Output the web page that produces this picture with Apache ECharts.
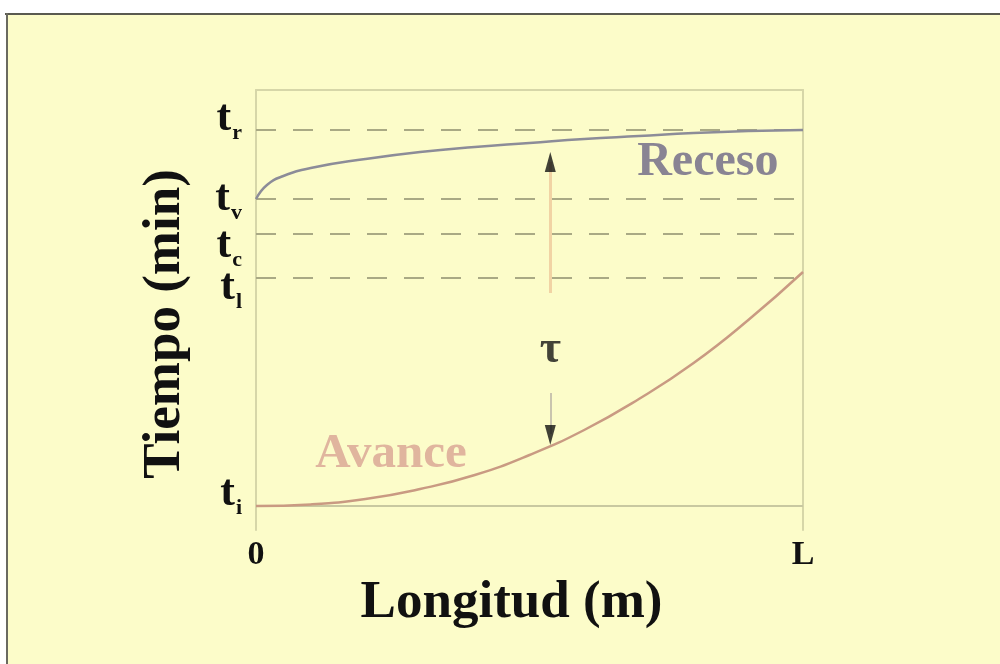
<!DOCTYPE html>
<html><head><meta charset="utf-8">
<script src="https://cdn.jsdelivr.net/npm/echarts@6/dist/echarts.min.js"></script>
<style>html,body{margin:0;padding:0;background:#ffffff}#c{width:1000px;height:664px}</style>
</head><body><div id="c"></div>
<script>
// x: fraction of field length (0 .. L)
const lengthPos = [0, 0.1, 0.2, 0.3, 0.4, 0.5, 0.6, 0.7, 0.8, 0.9, 1.0];
const avance    = [6, 6.4, 7.75, 10.25, 13.75, 18.75, 25, 32.75, 41.75, 52.5, 64.5];
const recesoPos = [0, 0.02, 0.05, 0.1, 0.2, 0.3, 0.4, 0.5, 0.6, 0.7, 0.8, 0.9, 1.0];
const receso    = [82.75, 86.25, 88.5, 90.5, 92.75, 94.5, 95.75, 96.75, 97.75, 98.5, 99.25, 99.75, 100];
// time levels on the y axis
const timeSubs   = ['r', 'v', 'c', 'l', 'i'];
const timeValues = [100, 82.75, 74, 63, 6];
const dashedValues = [100, 82.75, 74, 63];
const baseValue = 6;
// x tick labels
const xTickValues = [0, 1];
const xTickLabels = ['0', 'L'];
// tau arrows (x position, y from, y to)
const arrowX = 0.538;
const upArrow = [59.25, 92];
const downArrow = [34.25, 24];
const upHead = 92;
const downHead = 23.75;
const tauPos = [0.538, 45];
const recesoLabelPos = [0.826, 91.75];
const avanceLabelPos = [0.247, 19];

const SERIF = '"Liberation Serif", "DejaVu Serif", serif';
const frameColor = '#d6d6a8';
// vertical nudge (style) of each time label, in px: padding [top, bottom]
const labelNudge = { r: [0, 22], v: [0, 0], c: [24, 0], l: [20, 0], i: [0, 24] };
const richStyles = {};
Object.keys(labelNudge).forEach(k => {
  const [pt, pb] = labelNudge[k];
  richStyles['t' + k] = { fontFamily: SERIF, fontWeight: 'bold', fontSize: 44, color: '#111', padding: [pt, 0, pb, 0] };
  richStyles['s' + k] = { fontFamily: SERIF, fontWeight: 'bold', fontSize: 22, color: '#111', padding: [pt + 28, 0, pb, 1] };
});

const chart = echarts.init(document.getElementById('c'));
const zip = (xs, ys) => xs.map((x, i) => [x, ys[i]]);

chart.setOption({
  backgroundColor: '#ffffff',
  animation: false,
  graphic: [
    { type: 'rect', left: 8, top: 15, shape: { width: 992, height: 649 }, style: { fill: '#fcfcc9' }, z: -10 },
    { type: 'line', shape: { x1: 5, y1: 14, x2: 1000, y2: 14 }, style: { stroke: '#5a5a50', lineWidth: 2 }, z: -5 },
    { type: 'line', shape: { x1: 7, y1: 13, x2: 7, y2: 664 }, style: { stroke: '#6a6a60', lineWidth: 2 }, z: -5 }
  ],
  grid: { left: 256, right: 197, top: 90, bottom: 134 },
  xAxis: [{
    type: 'value', min: 0, max: 1, position: 'bottom',
    axisLine: { show: false }, axisTick: { show: false }, splitLine: { show: false },
    axisLabel: {
      customValues: xTickValues, margin: 8,
      formatter: v => xTickLabels[xTickValues.indexOf(v)],
      fontFamily: SERIF, fontWeight: 'bold', fontSize: 34, color: '#111'
    },
    name: 'Longitud (m)', nameLocation: 'middle', nameGap: 44,
    nameTextStyle: { fontFamily: SERIF, fontWeight: 'bold', fontSize: 53, color: '#111', padding: [0, 36, 0, 0] }
  }, {
    type: 'value', min: 0, max: 1, position: 'top',
    axisLine: { show: true, onZero: false, lineStyle: { color: frameColor, width: 2 } },
    axisTick: { show: false }, axisLabel: { show: false }, splitLine: { show: false }
  }],
  yAxis: [{
    type: 'value', min: 0, max: 110, position: 'left',
    axisLine: { show: true, onZero: false, lineStyle: { color: frameColor, width: 2 } },
    axisTick: { show: false }, splitLine: { show: false },
    axisLabel: {
      customValues: timeValues, margin: 14,
      formatter: v => { const s = timeSubs[timeValues.indexOf(v)]; return '{t' + s + '|t}{s' + s + '|' + s + '}'; },
      rich: richStyles
    },
    name: 'Tiempo (min)', nameLocation: 'middle', nameGap: 64,
    nameTextStyle: { fontFamily: SERIF, fontWeight: 'bold', fontSize: 53, color: '#111', padding: [0, 28, 0, 0] }
  }, {
    type: 'value', min: 0, max: 110, position: 'right',
    axisLine: { show: true, onZero: false, lineStyle: { color: frameColor, width: 2 } },
    axisTick: { show: false }, axisLabel: { show: false }, splitLine: { show: false }
  }],
  series: [
    {
      type: 'line', name: 'guides', data: [], silent: true,
      markLine: {
        silent: true, symbol: ['none', 'none'], label: { show: false },
        data: dashedValues.map(v => ({ yAxis: v, lineStyle: { type: [20, 17], color: '#a9a984', width: 2 } }))
          .concat([{ yAxis: baseValue, lineStyle: { type: 'solid', color: '#c8c8a0', width: 2 } }])
      }
    },
    {
      type: 'line', name: 'Avance', data: zip(lengthPos, avance), smooth: true, symbol: 'none',
      lineStyle: { color: '#c99a82', width: 2.5 }, z: 5
    },
    {
      type: 'line', name: 'Receso', data: zip(recesoPos, receso), smooth: true, symbol: 'none',
      lineStyle: { color: '#8c8c98', width: 2.5 }, z: 5
    },
    {
      type: 'line', name: 'arrows', data: [], silent: true,
      markLine: {
        silent: true, symbol: ['none', 'none'], label: { show: false },
        data: [
          [{ coord: [arrowX, upArrow[0]], lineStyle: { color: '#f1d3a4', width: 3, type: 'solid' } }, { coord: [arrowX, upArrow[1]] }],
          [{ coord: [arrowX, downArrow[0]], lineStyle: { color: '#c9c4ae', width: 2, type: 'solid' } }, { coord: [arrowX, downArrow[1]] }]
        ]
      }
    },
    {
      type: 'scatter', name: 'heads', silent: true, z: 6,
      data: [
        { value: [arrowX, upHead], symbolRotate: 0 },
        { value: [arrowX, downHead], symbolRotate: 180 }
      ],
      symbol: 'triangle', symbolSize: [11, 20], itemStyle: { color: '#111111' }
    },
    {
      type: 'scatter', name: 'labels', silent: true, symbolSize: 0, z: 7,
      data: [
        { value: tauPos, label: { formatter: 'τ', fontFamily: SERIF, fontWeight: 'bold', fontSize: 46, color: '#141414' } },
        { value: recesoLabelPos, label: { formatter: 'Receso', fontFamily: SERIF, fontWeight: 'bold', fontSize: 48, color: '#6c6586' } },
        { value: avanceLabelPos, label: { formatter: 'Avance', fontFamily: SERIF, fontWeight: 'bold', fontSize: 49, color: '#d8a393' } }
      ],
      label: { show: true, position: 'inside' }
    }
  ]
});
</script></body></html>
